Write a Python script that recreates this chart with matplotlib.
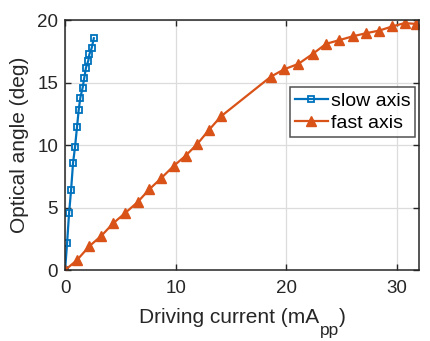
import matplotlib
matplotlib.use("Agg")
import matplotlib.pyplot as plt

plt.rcParams['font.family'] = ['Liberation Sans', 'DejaVu Sans']

slow_x = [0, 0.18, 0.36, 0.54, 0.72, 0.90, 1.08, 1.23, 1.38, 1.59, 1.74, 1.89, 2.10, 2.20, 2.40, 2.60]
slow_y = [0, 2.14, 4.55, 6.37, 8.57, 9.85, 11.46, 12.8, 13.8, 14.6, 15.4, 16.2, 16.76, 17.27, 17.75, 18.55]

fast_x = [0, 1.08, 2.18, 3.29, 4.36, 5.44, 6.55, 7.63, 8.7, 9.81, 10.9, 11.97, 13.0, 14.1,
          18.6, 19.8, 21.1, 22.4, 23.6, 24.8, 26.0, 27.2, 28.4, 29.6, 30.7, 31.7]
fast_y = [0, 0.8, 1.9, 2.75, 3.75, 4.57, 5.43, 6.47, 7.36, 8.32, 9.15, 10.1, 11.2, 12.3,
          15.47, 16.06, 16.5, 17.3, 18.1, 18.4, 18.7, 18.95, 19.16, 19.5, 19.76, 19.7]

x_ticks = [0, 10, 20, 30]
y_ticks = [0, 5, 10, 15, 20]

W, H = 431, 341
fig = plt.figure(figsize=(W / 100, H / 100), dpi=100)
ax = fig.add_axes([0.151, 0.208, 0.821, 0.733])

blue = '#0072BD'
orange = '#D95319'
txt = '#262626'
ax.plot(slow_x, slow_y, '-s', color=blue, lw=1.6, ms=5, mfc='none', mew=1.3, label='slow axis')
ax.plot(fast_x, fast_y, '-^', color=orange, lw=1.6, ms=7, mfc=orange, mew=1.0, label='fast axis')

ax.set_xlim(0, 32)
ax.set_ylim(0, 20)
ax.set_xticks(x_ticks)
ax.set_yticks(y_ticks)
ax.grid(True, color='#dcdcdc', lw=0.9)
ax.set_axisbelow(True)
ax.tick_params(direction='in', top=True, right=True, labelsize=13.5, length=4, width=1, colors=txt)
ax.tick_params(axis='x', pad=7)
ax.tick_params(axis='y', pad=5)
for s in ax.spines.values():
    s.set_linewidth(1.1)
    s.set_color(txt)

ax.set_ylabel('Optical angle (deg)', fontsize=15, color=txt, labelpad=6)

# x label built from pieces so that the subscript is nearly full size
renderer = fig.canvas.get_renderer()
base_y = (H - 323) / H
t1 = fig.text(0, base_y, 'Driving current (mA', fontsize=15, color=txt, va='baseline', ha='left')
t2 = fig.text(0, base_y - 12 / H, 'pp', fontsize=12.5, color=txt, va='baseline', ha='left')
t3 = fig.text(0, base_y, ')', fontsize=15, color=txt, va='baseline', ha='left')
w1 = t1.get_window_extent(renderer).width
w2 = t2.get_window_extent(renderer).width
w3 = t3.get_window_extent(renderer).width
total = w1 + w2 + w3
cx = 242.5
x0 = cx - total / 2
t1.set_x(x0 / W)
t2.set_x((x0 + w1) / W)
t3.set_x((x0 + w1 + w2) / W)

leg = ax.legend(loc='upper right', bbox_to_anchor=(0.989, 0.732), fontsize=14, frameon=True, fancybox=False,
                edgecolor=txt, handlelength=1.7, handletextpad=0.15, borderpad=0.25, labelspacing=0.25,
                borderaxespad=0.0)
leg.get_frame().set_linewidth(1.1)

fig.savefig('out.png', dpi=100)
